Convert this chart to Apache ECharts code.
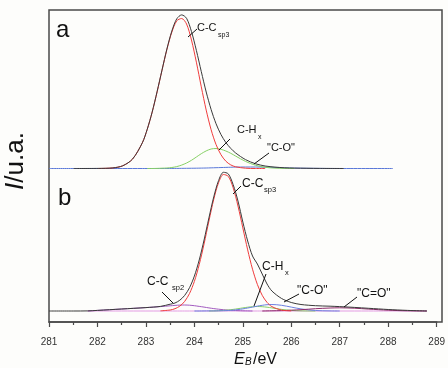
<!DOCTYPE html>
<html><head><meta charset="utf-8">
<script src="https://cdn.jsdelivr.net/npm/echarts@6/dist/echarts.min.js"></script>
<style>html,body{margin:0;padding:0;background:#fdfdfb}#c{width:448px;height:368px}</style>
</head><body><div id="c"></div>
<script>
// ---------- data (binding energy in eV, intensity in arbitrary units) ----------
const xTickLabels = ['281','282','283','284','285','286','287','288','289'];

// Panel a
const energyA = [281.0,281.5,282.0,282.3,282.5,282.7,282.9,283.0,283.1,283.2,283.3,283.4,283.5,283.6,283.7,283.8,283.9,284.0,284.1,284.2,284.3,284.4,284.5,284.6,284.7,284.8,285.0,285.2,285.4,285.6,285.8,286.0,286.5,287.0,288.0];
const aEnvelope = [null,0,0.1,0.6,2.7,9.4,25.7,39.3,56.4,76.8,98.4,119.5,137.4,149.6,153.6,150.2,137.0,118.1,96.9,76.5,59.0,44.8,34.0,26.0,20.1,15.5,8.9,4.8,2.5,1.4,0.7,0.4,0.1,0,null];
const aCCsp3   = [null,null,0,0.6,2.7,9.4,25.7,39.2,56.3,76.4,98.1,119.0,136.3,147.6,150,144.5,128.5,106.3,81.7,58.4,38.8,24.0,13.8,7.3,3.6,1.7,0.3,0,0,null,null,null,null,null,null];
const aCHx     = [null,null,null,null,null,null,null,0,0,0.1,0.3,0.5,1.0,1.9,3.4,5.5,8.2,11.5,14.8,17.6,19.5,20,19.2,17.5,15.2,12.4,7.1,3.3,1.2,0.4,0.1,0,null,null,null];
const aCO      = [0,0,0,0,0,0,0,0,0,0,0,0,0.05,0.1,0.15,0.2,0.25,0.3,0.4,0.5,0.65,0.8,0.95,1.1,1.25,1.4,1.5,1.5,1.3,1.0,0.6,0.4,0.1,0,0];

// Panel b
const energyB = [281.0,281.5,281.8,282.0,282.5,283.0,283.3,283.5,283.6,283.7,283.8,283.9,284.0,284.1,284.2,284.3,284.4,284.5,284.6,284.7,284.8,284.9,285.0,285.1,285.2,285.3,285.4,285.5,285.6,285.8,286.0,286.2,286.5,286.8,287.0,287.3,287.6,288.0,288.4,288.8];
const bEnvelope = [0,0,0.1,0.6,2.0,3.4,4.6,6.8,8.0,10.8,15.6,23.3,34.9,51.0,71.0,93.1,114.1,130.5,138.7,137.1,126.4,110,89,70,55,47,37,27,20,12.5,8.5,6.5,5.3,4.8,4.4,3.6,2.7,1.5,0.6,0];
const bCCsp3   = [null,null,null,null,null,null,0.15,1.0,2.3,4.9,9.6,17.5,29.6,46.4,67.1,90.0,111.7,128.4,136.5,134.6,123.3,105.0,83.1,61.1,41.8,26.6,15.7,8.6,4.4,0.9,0.1,null,null,null,null,null,null,null,null,null];
const bCCsp2   = [null,null,0,0.6,2.0,3.4,4.4,5.2,5.6,5.9,6.0,5.8,5.3,4.6,3.9,3.1,2.4,1.8,1.3,0.9,0.6,0.4,0.2,0.1,0,null,null,null,null,null,null,null,null,null,null,null,null,null,null,null];
const bCHx     = [null,null,null,null,null,null,null,null,null,null,null,null,null,null,null,0,0.1,0.3,0.6,1.0,1.6,2.3,3.1,3.8,4.3,4.5,4.3,3.8,3.1,1.6,0.6,0.15,0,null,null,null,null,null,null,null];
const bCO      = [null,null,null,null,null,null,null,null,null,null,null,null,0,0,0.05,0.1,0.1,0.2,0.3,0.5,0.9,1.4,2.1,3.0,3.9,4.9,5.7,6.3,6.5,5.7,3.9,2.1,0.5,0.1,0,null,null,null,null,null];
const bCeqO    = [null,null,null,null,null,null,null,null,null,null,null,null,null,null,null,null,null,null,null,null,null,null,null,null,null,null,0,0.1,0.2,0.4,0.8,1.3,2.3,3.0,3.2,2.8,1.9,0.8,0.2,0];
const bBackground = [null,null,0,0,0,0,0,0,0,0,0,0,0,0,0,0,0,0,0,0,0,0,0,0,0,0,0,0,0,0,0,0,0,0,0,0,0,0,0,0];

// ---------- chart ----------
const pairs = (xs, ys) => xs.map((x, i) => [x, ys[i]]);
const FRAME = '#4a4a4a';
const FONT = '"Liberation Sans", Arial, sans-serif';

function line(name, xi, yi, xs, ys, color) {
  return {
    name, type: 'line', xAxisIndex: xi, yAxisIndex: yi,
    data: pairs(xs, ys), showSymbol: false, symbol: 'none',
    smooth: 0.3, connectNulls: false,
    lineStyle: { color, width: 1 }, itemStyle: { color },
    silent: true, animation: false
  };
}

const hiddenY = (gridIndex, min, max) => ({ gridIndex, type: 'value', min, max, show: false });

const chart = echarts.init(document.getElementById('c'), null, { renderer: 'canvas' });

const txt = (text, x, y, size, extra) => ({
  type: 'text', silent: true, z: 10,
  style: Object.assign({ text, x, y, fill: '#111', font: size + 'px ' + FONT,
    textAlign: 'left', textVerticalAlign: 'middle', align: 'left', verticalAlign: 'middle' }, extra || {})
});
const ptr = (x1, y1, x2, y2) => ({
  type: 'line', silent: true, z: 10, shape: { x1, y1, x2, y2 },
  style: { stroke: '#111', lineWidth: 1 }
});

chart.setOption({
  backgroundColor: '#fdfdfb',
  animation: false,
  grid: [
    { left: 49, right: 6, top: 10, height: 160 },
    { left: 49, right: 6, top: 170, height: 152 },
    { left: 49, right: 6, top: 10, height: 312, show: true, borderColor: FRAME, borderWidth: 1.5, backgroundColor: 'transparent' }
  ],
  xAxis: [
    { gridIndex: 0, type: 'value', min: 281, max: 289, interval: 1, show: false },
    { gridIndex: 1, type: 'value', min: 281, max: 289, interval: 1, position: 'bottom',
      axisLine: { show: true, onZero: false, lineStyle: { color: FRAME, width: 1.5 } },
      axisTick: { show: true, inside: false, length: 5, lineStyle: { color: FRAME, width: 1.2 } },
      minorTick: { show: true, splitNumber: 2, length: 3, lineStyle: { color: FRAME, width: 1.2 } },
      axisLabel: { margin: 15, fontSize: 10, color: '#333', fontFamily: FONT,
        formatter: v => xTickLabels[Math.round(v - 281)] },
      splitLine: { show: false } },
    { gridIndex: 2, type: 'value', min: 281, max: 289, show: false }
  ],
  yAxis: [
    hiddenY(0, -1.5, 158.5),
    hiddenY(1, -11, 141),
    hiddenY(2, 0, 1)
  ],
  series: [
    line('C-O (a)', 0, 0, energyA, aCO, '#5a78d8'),
    line('C-Hx (a)', 0, 0, energyA, aCHx, '#86d065'),
    line('C-Csp3 (a)', 0, 0, energyA, aCCsp3, '#f03c3c'),
    line('Envelope (a)', 0, 0, energyA, aEnvelope, '#3a3a3a'),
    line('Background (b)', 1, 1, energyB, bBackground, '#e39be3'),
    line('C-Csp2 (b)', 1, 1, energyB, bCCsp2, '#a25ac0'),
    line('C-Hx (b)', 1, 1, energyB, bCHx, '#86d065'),
    line('C-O (b)', 1, 1, energyB, bCO, '#6b7fe0'),
    line('C=O (b)', 1, 1, energyB, bCeqO, '#8e2a6a'),
    line('C-Csp3 (b)', 1, 1, energyB, bCCsp3, '#f03c3c'),
    line('Envelope (b)', 1, 1, energyB, bEnvelope, '#3a3a3a')
  ],
  graphic: [
    // panel letters
    txt('a', 56, 30, 24),
    txt('b', 58, 198, 24),
    // panel a annotations
    txt('C-C', 197, 28, 11), txt('sp3', 218, 35, 7),
    ptr(188, 37, 197, 29),
    txt('C-H', 237, 130, 11), txt('x', 258, 137, 7),
    ptr(219, 150, 230, 139),
    txt('"C-O"', 267, 147.5, 11),
    ptr(254, 164, 269, 153),
    // panel b annotations
    txt('C-C', 242, 184, 12), txt('sp3', 264, 190, 7.5),
    ptr(233, 194, 241, 186),
    txt('C-C', 147, 282, 12), txt('sp2', 172, 288, 7.5),
    ptr(162, 292, 173, 303),
    txt('C-H', 262, 267, 12), txt('x', 285, 273, 7.5),
    ptr(266, 274, 254, 306),
    txt('"C-O"', 297, 291, 12),
    ptr(284, 302, 299, 294),
    txt('"C=O"', 357, 294, 12),
    ptr(344, 307, 357, 297),
    // x axis title
    txt('E', 234, 360, 16, { font: 'italic 16px ' + FONT }),
    txt('B', 245, 362.5, 10, { font: 'italic 10px ' + FONT }),
    txt('/eV', 253, 360, 16),
    // y axis title
    { type: 'text', silent: true, x: 16, y: 161, rotation: Math.PI / 2,
      style: { text: '{i|I}{n|/u.a.}', x: 0, y: 0, fill: '#111',
        textAlign: 'center', textVerticalAlign: 'middle', align: 'center', verticalAlign: 'middle',
        font: '26px ' + FONT,
        rich: { i: { fontStyle: 'italic', fontSize: 26, fontFamily: FONT, fill: '#111' },
                n: { fontSize: 26, fontFamily: FONT, fill: '#111' } } } }
  ]
});
</script></body></html>
